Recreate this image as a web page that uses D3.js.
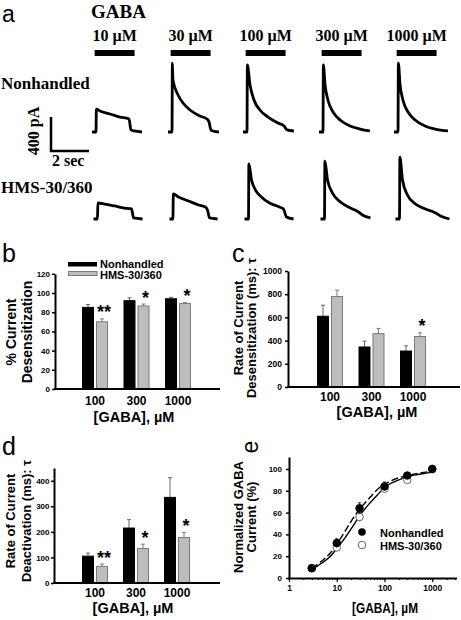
<!DOCTYPE html>
<html><head><meta charset="utf-8">
<script src="https://cdn.jsdelivr.net/npm/d3@7"></script>
<style>
body{margin:0;background:#fff}
svg{display:block}
</style></head><body>
<svg id="fig" width="461" height="620"></svg>
<script>
// ---------------- DATA ----------------
// Panel a: concentrations and example current traces [time (s), current (pA)]
const concLabels = ["10 µM","30 µM","100 µM","300 µM","1000 µM"];
const rowLabels = ["Nonhandled","HMS-30/360"];
const appStart = 0.14, appDur = 2.1; // GABA application (s)
const traceNH = [
  [[0,0],[0.21,0],[0.23,270],[0.42,247],[0.95,212],[1.47,176],[1.95,153],[2.05,24],[2.21,12],[2.63,0]],
  [[0,0],[0.21,0],[0.23,811],[0.26,612],[0.53,435],[0.79,341],[1.16,259],[1.68,188],[2.05,153],[2.16,118],[2.26,24],[2.37,12],[2.68,0]],
  [[0,0],[0.21,0],[0.23,788],[0.37,553],[0.58,376],[0.89,259],[1.32,176],[1.84,106],[2.16,71],[2.32,24],[2.68,12]],
  [[0,0],[0.21,0],[0.23,788],[0.32,553],[0.47,376],[0.74,235],[1.11,141],[1.63,71],[2.16,35],[2.68,12]],
  [[0,0],[0.21,0],[0.23,811],[0.32,553],[0.47,376],[0.74,235],[1.11,141],[1.63,71],[2.16,35],[2.84,12]]
];
const traceHMS = [
  [[0,0],[0.21,0],[0.23,188],[0.58,176],[1.11,153],[1.63,129],[2.0,118],[2.11,12],[2.58,0]],
  [[0,0],[0.18,0],[0.2,294],[0.47,259],[1.0,212],[1.53,165],[1.89,141],[2.0,106],[2.11,12],[2.53,0]],
  [[0,0],[0.21,0],[0.23,647],[0.37,459],[0.58,341],[0.89,259],[1.32,188],[1.84,141],[2.05,118],[2.21,24],[2.58,0]],
  [[0,0],[0.21,0],[0.23,682],[0.37,459],[0.63,306],[1.05,200],[1.58,129],[2.0,82],[2.21,47],[2.63,12]],
  [[0,0],[0.21,0],[0.23,729],[0.37,459],[0.63,282],[1.05,176],[1.58,118],[2.11,71],[2.37,35],[2.84,0]]
];
// Panels b-d
const doses = ["100","300","1000"];
const desensNH = [85,92,94], desensNHErr = [3,3,1.5];
const desensHMS = [70,86.5,89], desensHMSErr = [3,2,1];
const desensSig = ["**","*","*"];
const tauDesNH = [610,345,310], tauDesNHErr = [95,50,45];
const tauDesHMS = [780,460,435], tauDesHMSErr = [55,45,32];
const tauDesSig = ["","","*"];
const tauDeaNH = [105,215,335], tauDeaNHErr = [12,33,77];
const tauDeaHMS = [65,135,178], tauDeaHMSErr = [9,17,20];
const tauDeaSig = ["**","*","*"];
// Panel e: concentration-response
const eConc = [3,10,30,100,300,1000];
const eNH = [9,32,64,84,94,100], eNHErr = [1,4,5,4,2,0];
const eHMS = [9,28,56,82,90,100], eHMSErr = [1,2,4,2,2,0];
const fitConc = [3,5,7,10,15,20,30,50,70,100,200,300,500,1000];
const fitNH  = [9,16,22,31,43,52,63,74,81,86,92,94,96,98];
const fitHMS = [8,14,19,27,37,45,57,69,76,83,90,93,95,97];

// ---------------- DRAW ----------------
const svg = d3.select("#fig");
const SERIF = '"Liberation Serif","Times New Roman",serif';
const SANS = '"Liberation Sans",Arial,Helvetica,sans-serif';

function text(x, y, s, size, o = {}) {
  const t = svg.append("text").attr("x", x).attr("y", y).text(s)
    .attr("font-family", o.family || SANS).attr("font-size", size)
    .attr("font-weight", o.weight || "bold").attr("fill", "#000");
  if (o.anchor) t.attr("text-anchor", o.anchor);
  if (o.rot) t.attr("transform", `rotate(-90,${x},${y})`);
  if (o.len) t.attr("textLength", o.len).attr("lengthAdjust", "spacingAndGlyphs");
  return t;
}

// ----- Panel a -----
text(2, 21.5, "a", 23, {weight: "normal"});
text(91, 18, "GABA", 19, {family: SERIF});
const tS = d3.scaleLinear().domain([0, 2]).range([0, 38]);
const iS = d3.scaleLinear().domain([0, 400]).range([0, -34]);
const colX = [92, 168, 243, 319, 394];
concLabels.forEach((c, j) => {
  const bx = colX[j] + tS(appStart);
  svg.append("rect").attr("x", bx).attr("y", 50).attr("width", tS(appDur)).attr("height", 6).attr("fill", "#000");
  text(bx + tS(appDur) / 2, 41, c, 16, {family: SERIF, anchor: "middle"});
});
const traceLine = d3.line().x(d => tS(d[0])).y(d => iS(d[1])).curve(d3.curveMonotoneX);
const rows = [{base: 132, shift: 0, data: traceNH, ly: 89}, {base: 219, shift: 1.5, data: traceHMS, ly: 193}];
rows.forEach((r, k) => {
  text(1, r.ly, rowLabels[k], 17, {family: SERIF});
  r.data.forEach((tr, j) => {
    svg.append("path").attr("d", traceLine(tr))
      .attr("transform", `translate(${colX[j] + r.shift},${r.base})`)
      .attr("fill", "none").attr("stroke", "#000").attr("stroke-width", 2.8).attr("stroke-linejoin", "round");
  });
});
// scale bar
svg.append("path").attr("d", `M51,${151 + iS(400)}V151H${51 + tS(2)}`)
  .attr("fill", "none").attr("stroke", "#000").attr("stroke-width", 2.5);
text(39, 131, "400 pA", 16, {family: SERIF, anchor: "middle", rot: true});
text(52, 166, "2 sec", 16, {family: SERIF});

// ----- Bar panels -----
function barPanel(c) {
  const g = svg.append("g");
  const y = d3.scaleLinear().domain([0, c.ymax]).range([c.y0, c.y1]);
  const x = d3.scalePoint().domain(doses).range(c.xr);
  const xs = d3.scaleBand().domain(["nh", "hms"]).range([-13, 13]).paddingInner(1 / 7);
  const series = [
    {k: "nh", v: c.nh, e: c.nhErr, fill: "#000", stroke: "#000", err: "#666"},
    {k: "hms", v: c.hms, e: c.hmsErr, fill: "#bdbdbd", stroke: "#7a7a7a", err: "#7a7a7a"}
  ];
  series.forEach(s => {
    const sg = g.append("g");
    s.v.forEach((d, i) => {
      const bx = x(doses[i]) + xs(s.k), cx = bx + xs.bandwidth() / 2;
      sg.append("line").attr("x1", cx).attr("x2", cx).attr("y1", y(d)).attr("y2", y(d + s.e[i]))
        .attr("stroke", s.err).attr("stroke-width", 1);
      sg.append("line").attr("x1", cx - 2).attr("x2", cx + 2).attr("y1", y(d + s.e[i])).attr("y2", y(d + s.e[i]))
        .attr("stroke", s.err).attr("stroke-width", 1);
      sg.append("rect").attr("x", bx + 0.5).attr("width", xs.bandwidth() - 1)
        .attr("y", y(d)).attr("height", c.y0 - y(d))
        .attr("fill", s.fill).attr("stroke", s.stroke).attr("stroke-width", 1);
    });
  });
  // significance
  c.sig.forEach((s, i) => {
    if (!s) return;
    const cx = x(doses[i]) + xs("hms") + xs.bandwidth() / 2 + 2;
    const cy = y(c.hms[i] + c.hmsErr[i]) - 11;
    text(cx, cy + 10.5, s, 18, {anchor: "middle"});
  });
  // y axis
  const ya = svg.append("g").attr("transform", `translate(${c.ax},0)`)
    .call(d3.axisLeft(y).tickValues(c.ticks).tickFormat(d3.format("d")).tickSize(3).tickSizeOuter(0).tickPadding(c.pad));
  ya.attr("font-family", SANS).attr("font-size", c.tfs).attr("font-weight", "bold");
  ya.select(".domain").attr("stroke-width", 2);
  ya.selectAll(".tick line").attr("stroke-width", 1.5);
  // x axis
  svg.append("line").attr("x1", c.ax - 1).attr("x2", c.ax1).attr("y1", c.y0).attr("y2", c.y0)
    .attr("stroke", "#000").attr("stroke-width", 2.2);
  doses.forEach(dd => text(x(dd), c.y0 + c.tlo, dd, 12, {anchor: "middle"}));
  text(c.tx, c.ty, "[GABA], µM", 14.5, {anchor: "middle"});
  c.ytitle.forEach(t => text(t[1], c.ytc, t[0], c.yfs, {anchor: "middle", rot: true}));
}

// b
text(2, 262, "b", 25, {weight: "normal"});
barPanel({ymax: 120, y0: 389, y1: 273.8, ticks: d3.range(0, 121, 20), xr: [95, 178], ax: 55, ax1: 220,
  nh: desensNH, nhErr: desensNHErr, hms: desensHMS, hmsErr: desensHMSErr, sig: desensSig,
  tfs: 8, pad: 2, tlo: 15.5, tx: 134, ty: 422, ytc: 332, yfs: 14,
  ytitle: [["% Current", 16], ["Desensitization", 32]]});
// legend b
svg.append("rect").attr("x", 68).attr("y", 262).attr("width", 29).attr("height", 4.5).attr("fill", "#000");
svg.append("rect").attr("x", 68.5).attr("y", 271.5).attr("width", 28.5).attr("height", 4).attr("fill", "#bdbdbd").attr("stroke", "#7a7a7a");
text(100, 268, "Nonhandled", 11);
text(100, 279, "HMS-30/360", 11);

// c
text(232, 262, "c", 25, {weight: "normal"});
barPanel({ymax: 1000, y0: 387, y1: 271, ticks: d3.range(0, 1001, 200), xr: [330, 413], ax: 288, ax1: 460,
  nh: tauDesNH, nhErr: tauDesNHErr, hms: tauDesHMS, hmsErr: tauDesHMSErr, sig: tauDesSig,
  tfs: 8.5, pad: 3, tlo: 14, tx: 377, ty: 417, ytc: 328, yfs: 13,
  ytitle: [["Rate of Current", 243], ["Desensitization (ms): τ", 256]]});

// d
text(2, 455, "d", 25, {weight: "normal"});
barPanel({ymax: 450, y0: 583, y1: 468, ticks: d3.range(0, 401, 100), xr: [95, 177], ax: 54, ax1: 220,
  nh: tauDeaNH, nhErr: tauDeaNHErr, hms: tauDeaHMS, hmsErr: tauDeaHMSErr, sig: tauDeaSig,
  tfs: 8, pad: 1.5, tlo: 13.5, tx: 133, ty: 613, ytc: 521, yfs: 13,
  ytitle: [["Rate of Current", 15], ["Deactivation (ms): τ", 31]]});

// ----- Panel e -----
text(258, 447, "e", 23, {weight: "normal", anchor: "middle", rot: true});
const xe = d3.scaleLog().domain([1, 3300]).range([289, 457]);
const ye = d3.scaleLinear().domain([0, 111]).range([578, 457]);
// y axis
const yea = svg.append("g").attr("transform", "translate(289,0)")
  .call(d3.axisLeft(ye).tickValues(d3.range(0, 101, 20)).tickSize(3).tickSizeOuter(0).tickPadding(4));
yea.attr("font-family", SANS).attr("font-size", 8).attr("font-weight", "bold");
yea.select(".domain").attr("stroke-width", 2);
yea.selectAll(".tick line").attr("stroke-width", 1.5);
// x axis: minor ticks
const xMinor = svg.append("g").attr("transform", "translate(0,578)")
  .call(d3.axisBottom(xe).ticks(10).tickSize(2).tickSizeOuter(0).tickFormat(""));
xMinor.select(".domain").remove();
const xea = svg.append("g").attr("transform", "translate(0,578)")
  .call(d3.axisBottom(xe).tickValues([1, 10, 100, 1000]).tickFormat(d3.format("d")).tickSize(4).tickSizeOuter(0).tickPadding(3));
xea.attr("font-family", SANS).attr("font-size", 8.5).attr("font-weight", "bold");
xea.select(".domain").attr("stroke-width", 2.2).attr("d", "M288,0.5H457");
xea.selectAll(".tick line").attr("stroke-width", 1.2);
text(385, 613, "[GABA], µM", 15, {anchor: "middle", len: 66});
text(243, 517, "Normalized GABA", 13, {anchor: "middle", rot: true});
text(256, 517, "Current (%)", 13, {anchor: "middle", rot: true});
// fit curves
const fitLine = d3.line().x((d, i) => xe(fitConc[i])).y(d => ye(d)).curve(d3.curveMonotoneX);
svg.append("path").attr("d", fitLine(fitHMS)).attr("fill", "none").attr("stroke", "#000").attr("stroke-width", 1.4);
svg.append("path").attr("d", fitLine(fitNH)).attr("fill", "none").attr("stroke", "#000").attr("stroke-width", 1.4).attr("stroke-dasharray", "7,3");
// error bars and points
function pts(vals, errs, filled) {
  vals.forEach((v, i) => {
    const cx = xe(eConc[i]);
    if (errs[i] > 0) {
      svg.append("line").attr("x1", cx).attr("x2", cx).attr("y1", ye(v - errs[i])).attr("y2", ye(v + errs[i])).attr("stroke", "#000").attr("stroke-width", 0.8);
      svg.append("line").attr("x1", cx - 1.5).attr("x2", cx + 1.5).attr("y1", ye(v + errs[i])).attr("y2", ye(v + errs[i])).attr("stroke", "#000").attr("stroke-width", 0.8);
    }
  });
  svg.append("g").selectAll("circle").data(vals).join("circle")
    .attr("cx", (d, i) => xe(eConc[i])).attr("cy", d => ye(d)).attr("r", 3.8)
    .attr("fill", filled ? "#000" : "#fff").attr("stroke", filled ? "#000" : "#555").attr("stroke-width", 0.9);
}
pts(eHMS, eHMSErr, false);
pts(eNH, eNHErr, true);
// legend e
svg.append("circle").attr("cx", 362).attr("cy", 532).attr("r", 3.8).attr("fill", "#000");
svg.append("circle").attr("cx", 362).attr("cy", 545).attr("r", 3.8).attr("fill", "#fff").attr("stroke", "#555").attr("stroke-width", 0.9);
text(380, 537, "Nonhandled", 11);
text(380, 550, "HMS-30/360", 11);
</script>
</body></html>
